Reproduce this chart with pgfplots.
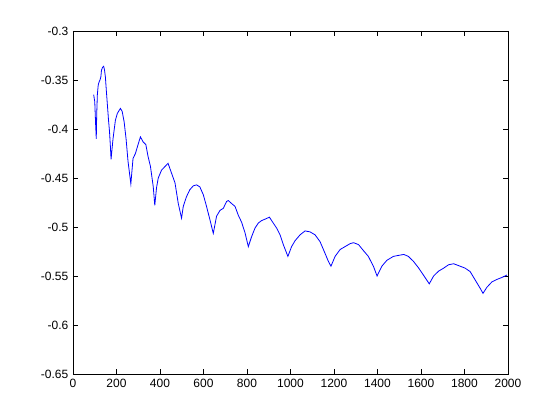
\documentclass[border=0pt]{standalone}
\usepackage{fontspec}
\setmainfont{Liberation Sans}
\usepackage{pgfplots}
\pgfplotsset{compat=1.18}

\begin{document}
\begin{tikzpicture}
\useasboundingbox (-54.75pt,-34.5pt) rectangle (365.25pt,280.5pt);
\begin{axis}[
  scale only axis,
  width=326.25pt, height=257.25pt,
  xmin=0, xmax=2000, ymin=-0.65, ymax=-0.3,
  xtick={0,200,...,2000},
  ytick={-0.65,-0.6,-0.55,-0.5,-0.45,-0.4,-0.35,-0.3},
  tick align=inside,
  major tick length=3.75pt,
  axis line style={black, line width=0.6pt},
  every tick/.style={black, line width=0.6pt},
  tick label style={font=\fontsize{9}{10}\selectfont},
  /pgf/number format/assume math mode=true,
  xticklabel style={/pgf/number format/set thousands separator={}},
  yticklabel style={/pgf/number format/fixed, /pgf/number format/precision=2},
  scaled y ticks=false,
]
\addplot[color={rgb,1:red,0;green,0;blue,1}, line width=0.6pt] coordinates {
  (95,-0.365)(100,-0.372)(104,-0.395)(107,-0.410)(109,-0.385)(112,-0.365)
  (116,-0.355)(120,-0.352)(124,-0.350)(128,-0.347)(131,-0.340)(136,-0.337)
  (141,-0.336)(145,-0.340)(149,-0.347)(153,-0.360)(158,-0.375)(163,-0.390)
  (168,-0.403)(172,-0.418)(175,-0.431)
  (184,-0.410)(195,-0.391)(204,-0.384)(218,-0.379)(226,-0.382)(235,-0.3925)
  (244,-0.410)(253,-0.433)(266,-0.456)
  (276,-0.430)(287,-0.425)(299,-0.416)(310,-0.408)(322,-0.413)(335,-0.416)
  (345,-0.428)(356,-0.438)(369,-0.459)(376,-0.478)
  (384,-0.460)(392,-0.450)(407,-0.442)(422,-0.4385)(437,-0.435)(453,-0.445)
  (469,-0.455)(484,-0.476)(499,-0.491)
  (507,-0.479)(522,-0.469)(537,-0.462)(553,-0.458)(568,-0.457)(583,-0.459)
  (599,-0.467)(614,-0.479)(630,-0.493)(645,-0.5065)
  (660,-0.489)(676,-0.483)(691,-0.481)(706,-0.474)(714,-0.473)(729,-0.476)
  (745,-0.479)(760,-0.488)(775,-0.495)(791,-0.506)(806,-0.520)
  (821,-0.510)(837,-0.501)(852,-0.496)(867,-0.4935)(883,-0.492)(903,-0.490)
  (921,-0.496)(936,-0.501)(952,-0.508)(967,-0.518)(988,-0.530)
  (1005,-0.520)(1021,-0.514)(1044,-0.508)(1067,-0.504)(1090,-0.505)
  (1113,-0.508)(1136,-0.515)(1159,-0.527)(1174,-0.535)(1186,-0.540)
  (1205,-0.530)(1228,-0.523)(1251,-0.520)(1274,-0.517)(1290,-0.516)
  (1313,-0.518)(1335,-0.524)(1358,-0.530)(1382,-0.5405)(1398,-0.550)
  (1420,-0.540)(1443,-0.534)(1473,-0.530)(1496,-0.529)(1521,-0.528)
  (1542,-0.530)(1565,-0.535)(1588,-0.5415)(1611,-0.549)(1638,-0.558)
  (1658,-0.550)(1681,-0.545)(1704,-0.542)(1727,-0.5385)(1750,-0.5375)
  (1780,-0.540)(1803,-0.542)(1826,-0.5455)(1849,-0.554)(1872,-0.5625)
  (1885,-0.5677)
  (1903,-0.5615)(1926,-0.556)(1949,-0.5535)(1972,-0.5515)(1995,-0.549)
};
\end{axis}
\end{tikzpicture}
\end{document}
